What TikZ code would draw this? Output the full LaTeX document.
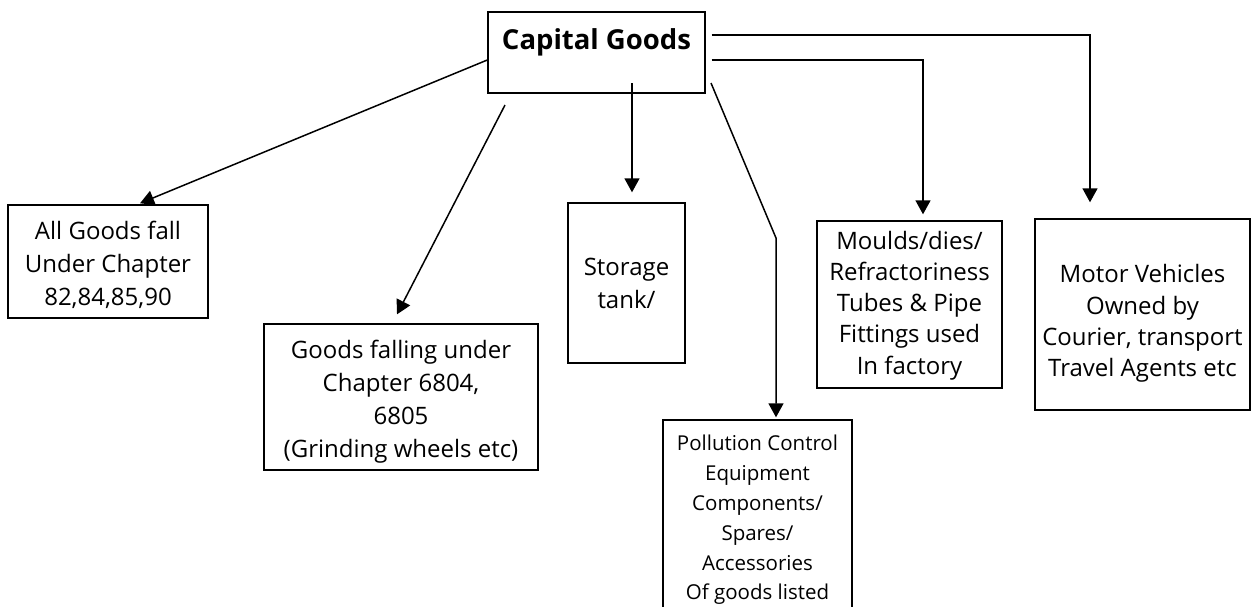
\documentclass[tikz,border=0pt]{standalone}
\usepackage{fontspec}
\setmainfont{Open Sans}
\usetikzlibrary{arrows.meta,calc}
\begin{document}
\begin{tikzpicture}[x=1pt,y=-1pt,
  box/.style={draw, line width=1.4pt, inner sep=0pt},
  txt/.style={align=center, inner sep=0pt},
  body/.style={txt, font=\fontsize{24}{33}\selectfont},
  tight/.style={txt, font=\fontsize{24}{31.2}\selectfont},
  small/.style={txt, font=\fontsize{20.5}{29.8}\selectfont},
  link/.style={line width=1.5pt},
  arr/.style={link, -{Triangle[width=15pt,length=14pt]}}]

\useasboundingbox (0,0) rectangle (1252,606);
\fill[white] (0,0) rectangle (1252,606);
\clip (0,0) rectangle (1252,606);

% top box
\node[box, minimum width=217pt, minimum height=81pt] (cap) at (596.5,52.5) {};
\node[txt, font=\bfseries\fontsize{27.5}{33}\selectfont] (captext) at (596.5,42) {Capital Goods};

% category boxes
\node[box, minimum width=200pt, minimum height=113pt] (all) at (108,261.5) {};
\node[box, minimum width=274pt, minimum height=146pt] (goods) at (401,397) {};
\node[box, minimum width=117pt, minimum height=160pt] (storage) at (626.5,283) {};
\node[box, minimum width=189pt, minimum height=200pt] (poll) at (757.5,520) {};
\node[box, minimum width=185pt, minimum height=167pt] (moulds) at (909.5,304.5) {};
\node[box, minimum width=215pt, minimum height=191pt] (motor) at (1142.5,314.5) {};

% box texts
\node[body] (alltext) at (108,265) {All Goods fall\\Under Chapter\\82,84,85,90};
\node[body] (goodstext) at (401,402) {Goods falling under\\Chapter 6804,\\6805\\(Grinding wheels etc)};
\node[body] (storagetext) at (626.5,283) {Storage\\tank/};
\node[small] (polltext) at (757.5,520) {Pollution Control\\Equipment\\Components/\\Spares/\\Accessories\\Of goods listed};
\node[tight] (mouldstext) at (909.5,305.5) {Moulds/dies/\\Refractoriness\\Tubes \& Pipe\\Fittings used\\In factory};
\node[tight] (motortext) at (1142.5,323.5) {Motor Vehicles\\Owned by\\Courier, transport\\Travel Agents etc};

% connectors
\coordinate (g0) at (505,105);
\coordinate (s0) at (632,83);
\coordinate (p0) at (711,83);
\coordinate (p1) at (776,238);

\draw[arr] ([yshift=-7.5pt]cap.west) -- ([xshift=32pt,yshift=1pt]all.north);
\draw[arr] (g0) -- ([xshift=-4pt,yshift=9pt]goods.north);
\draw[arr] (s0) -- ([xshift=5.5pt,yshift=10pt]storage.north);
\draw[arr] (p0) -- (p1) -- ([xshift=18.5pt,yshift=2pt]poll.north);
\draw[arr] ([xshift=6pt,yshift=-7.5pt]cap.east) -| ([xshift=13.5pt,yshift=6pt]moulds.north);
\draw[arr] ([xshift=6pt,yshift=17.5pt]cap.east) -| ([xshift=-52.5pt,yshift=16pt]motor.north);
\end{tikzpicture}
\end{document}
